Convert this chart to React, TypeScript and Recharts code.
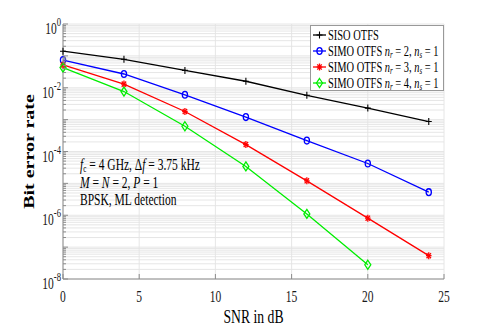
import { LineChart, Line, XAxis, YAxis, CartesianGrid, Legend } from 'recharts';

// SNR points (dB)
const snr = [0, 4, 8, 12, 16, 20, 24];

// BER
const sisoBer = [0.14, 0.078, 0.035, 0.016, 0.0058, 0.0023, 0.00087];
const simo2Ber = [0.074, 0.027, 0.006, 0.0012, 2.2e-4, 4.2e-5, 5.3e-6];
const simo3Ber = [0.052, 0.013, 0.0018, 1.65e-4, 1.2e-5, 8.1e-7, 5.4e-8];
const simo4Ber = [0.043, 0.0076, 6.2e-4, 3.4e-5, 1.1e-6, 2.8e-8, null];

const xTicks = [0, 5, 10, 15, 20, 25];
const yDecades = [-8, -7, -6, -5, -4, -3, -2, -1];
const yMantissas = [1, 2, 3, 4, 5, 6, 7, 8, 9];

// log axis: every minor tick, labels only on even decades
const yTicks: number[] = [];
yDecades.forEach((e) => yMantissas.forEach((m) => yTicks.push(m * Math.pow(10, e))));
yTicks.push(1);

const FONT = '"Liberation Serif", "Times New Roman", serif';
const SQ = 0.72; // the figure is squeezed horizontally
const AXIS = '#8c8c8c';

type MarkerShape = 'plus' | 'circle' | 'star' | 'diamond';

const series = [
  { key: 'siso', color: '#000000', shape: 'plus' as MarkerShape, nr: null as number | null },
  { key: 'simo2', color: '#0000ff', shape: 'circle' as MarkerShape, nr: 2 },
  { key: 'simo3', color: '#ff0000', shape: 'star' as MarkerShape, nr: 3 },
  { key: 'simo4', color: '#00ee00', shape: 'diamond' as MarkerShape, nr: 4 },
];

const chartData = snr.map((s, i) => ({
  snr: s,
  siso: sisoBer[i],
  simo2: simo2Ber[i],
  simo3: simo3Ber[i],
  simo4: simo4Ber[i],
}));

function MarkerGlyph({ cx, cy, shape, color }: { cx: number; cy: number; shape: MarkerShape; color: string }) {
  if (shape === 'plus') {
    return (
      <g stroke={color} strokeWidth={1.1}>
        <line x1={cx - 3} y1={cy} x2={cx + 3} y2={cy} />
        <line x1={cx} y1={cy - 3.5} x2={cx} y2={cy + 3.5} />
      </g>
    );
  }
  if (shape === 'circle') {
    return <ellipse cx={cx} cy={cy} rx={2.6} ry={3.4} fill="none" stroke={color} strokeWidth={1.3} />;
  }
  if (shape === 'star') {
    return (
      <g stroke={color} strokeWidth={1.3}>
        <line x1={cx - 2.8} y1={cy} x2={cx + 2.8} y2={cy} />
        <line x1={cx} y1={cy - 3.5} x2={cx} y2={cy + 3.5} />
        <line x1={cx - 2.2} y1={cy - 2.6} x2={cx + 2.2} y2={cy + 2.6} />
        <line x1={cx - 2.2} y1={cy + 2.6} x2={cx + 2.2} y2={cy - 2.6} />
      </g>
    );
  }
  return (
    <path
      d={`M${cx},${cy - 4.5} L${cx + 3},${cy} L${cx},${cy + 4.5} L${cx - 3},${cy} Z`}
      fill="none"
      stroke={color}
      strokeWidth={1.3}
    />
  );
}

const splitLog = (v: number) => {
  const e = Math.floor(Math.log10(v) + 1e-9);
  const m = Math.round(v / Math.pow(10, e));
  return { e, m };
};

const YTick = (props: any) => {
  const { x, y, payload, side } = props;
  const { e, m } = splitLog(payload.value);
  const major = m === 1;
  const len = major ? 5 : 3;
  const dir = side === 'right' ? -1 : 1;
  return (
    <g>
      <line x1={x} y1={y} x2={x + dir * len} y2={y} stroke={AXIS} strokeWidth={1} />
      {side !== 'right' && major && e % 2 === 0 && (
        <text
          transform={`translate(${x - 2},${y + 10}) scale(${SQ},1)`}
          textAnchor="end"
          fontFamily={FONT}
          fontSize={16}
          fill="#1a1a1a"
        >
          10
          <tspan dy={-8} fontSize={12}>
            {e}
          </tspan>
        </text>
      )}
    </g>
  );
};

const XTick = (props: any) => {
  const { x, y, payload, side } = props;
  const dir = side === 'top' ? 1 : -1;
  return (
    <g>
      <line x1={x} y1={y} x2={x} y2={y + dir * 5} stroke={AXIS} strokeWidth={1} />
      {side !== 'top' && (
        <text
          transform={`translate(${x},${y + 23}) scale(${SQ},1)`}
          textAnchor="middle"
          fontFamily={FONT}
          fontSize={16}
          fill="#1a1a1a"
        >
          {payload.value}
        </text>
      )}
    </g>
  );
};

const LegendBox = () => (
  <svg width={134} height={70} style={{ display: 'block', overflow: 'visible' }}>
    <rect x={0.5} y={0.5} width={133} height={65} fill="#ffffff" stroke="#999999" />
    {series.map((s, i) => {
      const cy = 10 + i * 16;
      return (
        <g key={s.key}>
          <line x1={3} y1={cy} x2={16} y2={cy} stroke={s.color} strokeWidth={1.3} />
          <MarkerGlyph cx={9.5} cy={cy} shape={s.shape} color={s.color} />
          <text
            transform={`translate(18,${cy + 4.5}) scale(${SQ},1)`}
            fontFamily={FONT}
            fontSize={14.5}
            fill="#000"
          >
            {s.nr === null ? (
              'SISO OTFS'
            ) : (
              <>
                {'SIMO OTFS '}
                <tspan fontStyle="italic">n</tspan>
                <tspan fontStyle="italic" fontSize={9.5} dy={2.5}>r</tspan>
                <tspan dy={-2.5}>{` = ${s.nr}, `}</tspan>
                <tspan fontStyle="italic">n</tspan>
                <tspan fontStyle="italic" fontSize={9.5} dy={2.5}>s</tspan>
                <tspan dy={-2.5}>{' = 1'}</tspan>
              </>
            )}
          </text>
        </g>
      );
    })}
  </svg>
);

const subStyle = { fontSize: 10, verticalAlign: '-2px', lineHeight: 0 };

export default function App() {
  return (
    <div style={{ position: 'absolute', left: 0, top: 0, width: 491, height: 327, background: '#fff' }}>
      <LineChart
        width={491}
        height={327}
        data={chartData}
        margin={{ top: 24, right: 47, bottom: 0, left: 0 }}
        style={{ fontFamily: FONT }}
      >
        <CartesianGrid stroke="#e3e3e3" strokeWidth={0.9} />
        <XAxis
          dataKey="snr"
          type="number"
          domain={[0, 25]}
          ticks={xTicks}
          height={48}
          stroke={AXIS}
          tickLine={false}
          tickSize={0}
          tickMargin={0}
          tick={<XTick side="bottom" />}
          label={{
            content: (p: any) => {
              const vb = p.viewBox;
              return (
                <text
                  transform={`translate(${vb.x + vb.width / 2},${vb.y + 44}) scale(${SQ},1)`}
                  textAnchor="middle"
                  fontFamily={FONT}
                  fontSize={19}
                  fill="#000"
                >
                  SNR in dB
                </text>
              );
            },
          }}
        />
        <XAxis
          xAxisId="top"
          orientation="top"
          dataKey="snr"
          type="number"
          domain={[0, 25]}
          ticks={xTicks}
          height={0}
          stroke={AXIS}
          tickLine={false}
          tickSize={0}
          tickMargin={0}
          tick={<XTick side="top" />}
        />
        <YAxis
          scale="log"
          type="number"
          domain={[1e-8, 1]}
          allowDataOverflow
          ticks={yTicks}
          interval={0}
          width={63}
          stroke={AXIS}
          tickLine={false}
          tickSize={0}
          tickMargin={0}
          tick={<YTick side="left" />}
          label={{
            content: (p: any) => {
              const vb = p.viewBox;
              return (
                <text
                  transform={`translate(${vb.x + 34},${vb.y + vb.height / 2}) scale(${SQ},1) rotate(-90)`}
                  textAnchor="middle"
                  fontFamily={FONT}
                  fontSize={20}
                  fontWeight="bold"
                  fill="#000"
                >
                  Bit error rate
                </text>
              );
            },
          }}
        />
        <YAxis
          yAxisId="right"
          orientation="right"
          scale="log"
          type="number"
          domain={[1e-8, 1]}
          allowDataOverflow
          ticks={yTicks}
          interval={0}
          width={0}
          stroke={AXIS}
          tickLine={false}
          tickSize={0}
          tickMargin={0}
          tick={<YTick side="right" />}
        />
        {series.map((s) => (
          <Line
            key={s.key}
            dataKey={s.key}
            type="linear"
            stroke={s.color}
            strokeWidth={1.3}
            isAnimationActive={false}
            dot={(p: any) =>
              p.cx == null || p.cy == null || p.value == null ? (
                <g key={`${s.key}-${p.index}`} />
              ) : (
                <g key={`${s.key}-${p.index}`}>
                  <MarkerGlyph cx={p.cx} cy={p.cy} shape={s.shape} color={s.color} />
                </g>
              )
            }
            activeDot={false}
          />
        ))}
        <Legend
          layout="vertical"
          align="center"
          verticalAlign="middle"
          wrapperStyle={{ left: 310, top: 25, width: 134, height: 70 }}
          content={() => <LegendBox />}
        />
      </LineChart>
      <div
        style={{
          position: 'absolute',
          left: 80,
          top: 156,
          fontFamily: FONT,
          fontSize: 16,
          lineHeight: '17.5px',
          whiteSpace: 'nowrap',
          transform: `scaleX(${SQ})`,
          transformOrigin: 'left top',
          color: '#000',
        }}
      >
        <div>
          <i>f</i>
          <span style={subStyle}>c</span> = 4 GHz, Δ<i>f</i> = 3.75 kHz
        </div>
        <div>
          <i>M</i> = <i>N</i> = 2, <i>P</i> = 1
        </div>
        <div>BPSK, ML detection</div>
      </div>
    </div>
  );
}
